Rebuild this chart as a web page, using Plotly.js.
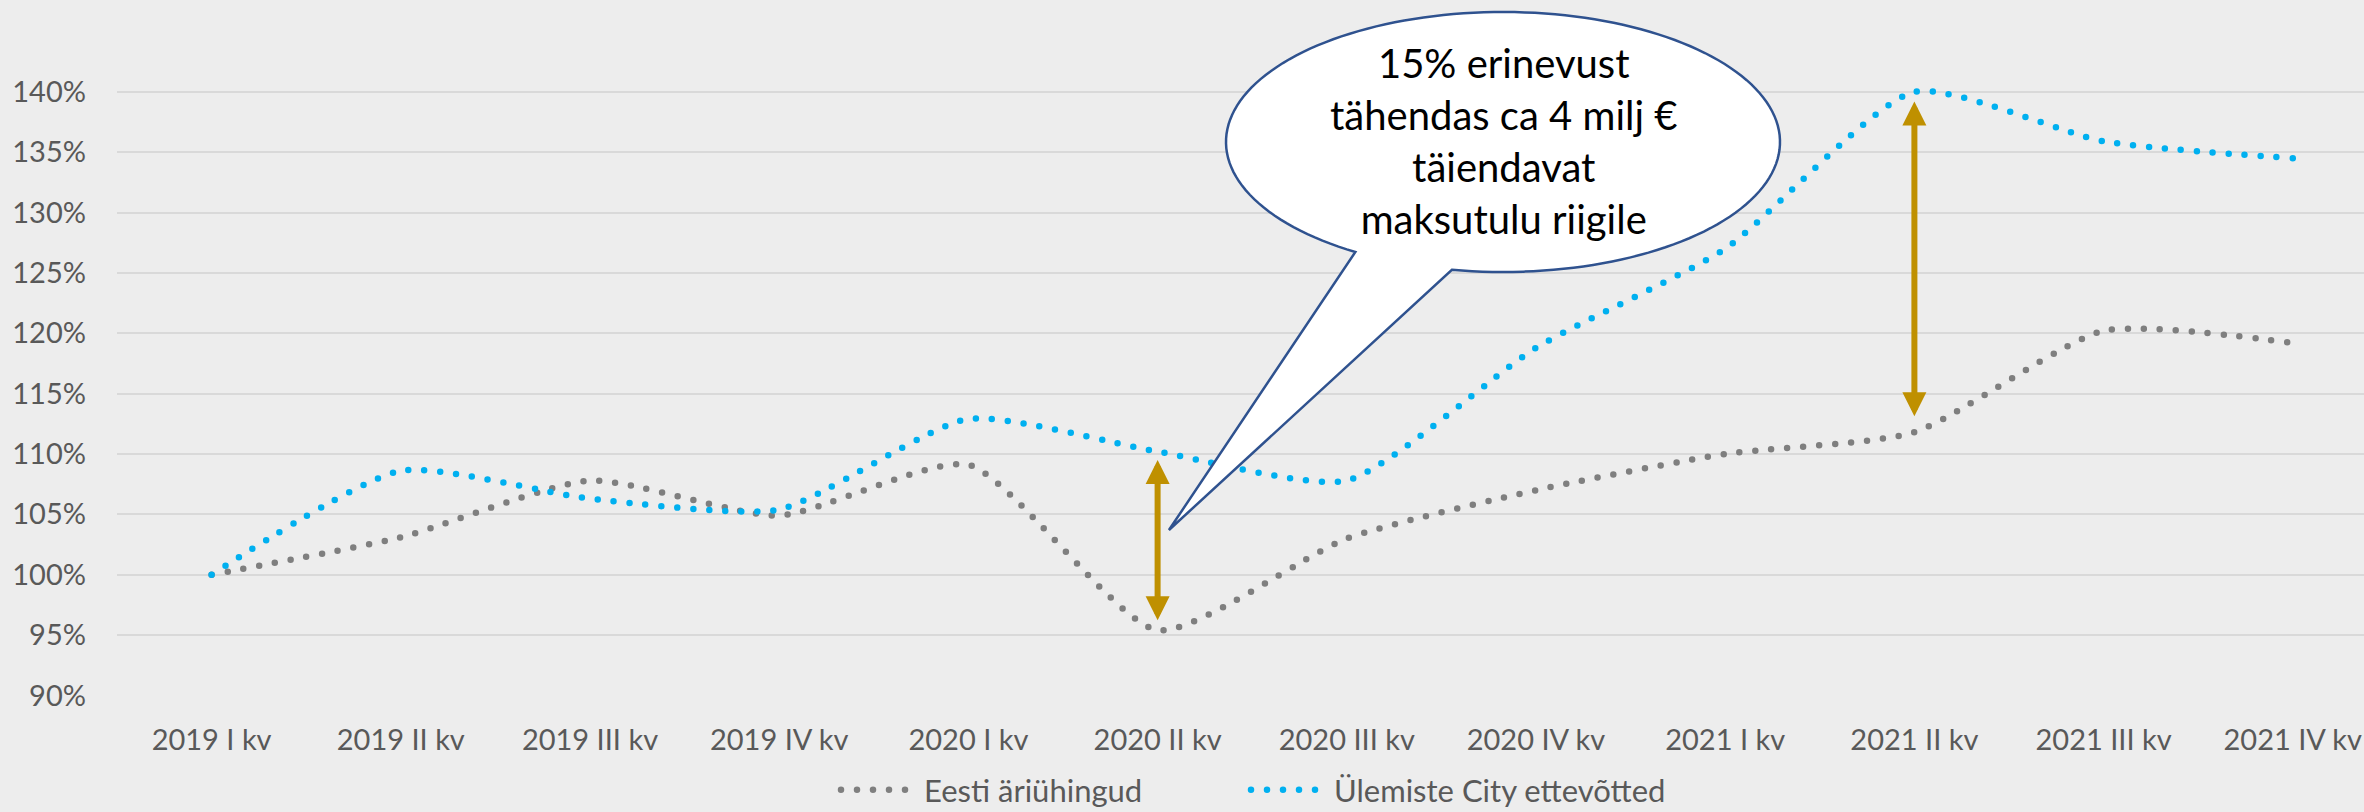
<!DOCTYPE html>
<html>
<head>
<meta charset="utf-8">
<script src="https://cdn.plot.ly/plotly-3.0.1.min.js"></script>
<style>
html,body{margin:0;padding:0;background:#EDEDED;}
#chart{width:2364px;height:812px;}
.js-line{stroke-linecap:round;}
</style>
</head>
<body>
<div id="chart"></div>
<script>
// ---- data ----
const categories = ["2019 I kv","2019 II kv","2019 III kv","2019 IV kv","2020 I kv","2020 II kv","2020 III kv","2020 IV kv","2021 I kv","2021 II kv","2021 III kv","2021 IV kv"];
const eestiValues = [1.000, 1.031, 1.078, 1.049, 1.091, 0.954, 1.030, 1.070, 1.100, 1.118, 1.202, 1.192];
const ulemisteValues = [1.000, 1.086, 1.063, 1.054, 1.129, 1.102, 1.078, 1.188, 1.270, 1.400, 1.359, 1.345];
const seriesNames = ["Eesti äriühingud", "Ülemiste City ettevõtted"];
const yTickValues = [0.90, 0.95, 1.00, 1.05, 1.10, 1.15, 1.20, 1.25, 1.30, 1.35, 1.40];
const yTickLabels = ["90%","95%","100%","105%","110%","115%","120%","125%","130%","135%","140%"];
const calloutLines = ["15% erinevust", "tähendas ca 4 milj €", "täiendavat", "maksutulu riigile"];
const arrowCategoryIdx = [5, 9];

// ---- layout geometry ----
const W = 2364, H = 812;
const M = {l: 117, r: 0, t: 32, b: 116};
const PW = W - M.l - M.r, PH = H - M.t - M.b;
const X_RANGE = [-0.5, -0.5 + PW / 189.2];
const Y_RANGE = [0.8995, 1.4496];
const px2paperX = p => (p - M.l) / PW;
const px2paperY = p => (H - M.b - p) / PH;
const dataX2px = i => M.l + (i - X_RANGE[0]) / (X_RANGE[1] - X_RANGE[0]) * PW;
const dataY2px = v => H - M.b - (v - Y_RANGE[0]) / (Y_RANGE[1] - Y_RANGE[0]) * PH;

const textColor = "#595959";
const bg = "#EDEDED";
const dotDash = "0px,16px";

const traces = [
  {x: categories, y: eestiValues, name: seriesNames[0], type: "scatter", mode: "lines",
   line: {color: "#7F7F7F", width: 6.5, dash: dotDash, shape: "spline", smoothing: 0.6},
   hoverinfo: "skip", cliponaxis: false, legend: "legend"},
  {x: categories, y: ulemisteValues, name: seriesNames[1], type: "scatter", mode: "lines",
   line: {color: "#00B0F0", width: 6.5, dash: dotDash, shape: "spline", smoothing: 0.6},
   hoverinfo: "skip", cliponaxis: false, legend: "legend2"}
];

// ---- callout bubble (ellipse with tail) ----
const cx = 1503, cy = 142, rx = 277, ry = 130;
const tailA = Math.atan2((272 - cy) / ry, (1451 - cx) / rx); // right base
const tailB = Math.atan2((253 - cy) / ry, (1354 - cx) / rx); // left base
const tipPx = [dataX2px(arrowCategoryIdx[0] + 0.06), dataY2px(1.037)];
let pts = [];
const N = 160;
const a0 = tailA, a1 = tailB - 2 * Math.PI;
for (let k = 0; k <= N; k++) {
  const a = a0 + (a1 - a0) * k / N;
  pts.push([cx + rx * Math.cos(a), cy + ry * Math.sin(a)]);
}
pts.push(tipPx);
let path = pts.map((p, k) => (k ? "L" : "M") + px2paperX(p[0]).toFixed(5) + "," + px2paperY(p[1]).toFixed(5)).join(" ") + " Z";

const shapes = [{
  type: "path", xref: "paper", yref: "paper", path: path,
  fillcolor: "#FFFFFF", line: {color: "#2F528F", width: 2.5}, layer: "above"
}];

const annotations = [{
  xref: "paper", yref: "paper", x: px2paperX(cx), y: px2paperY(141),
  xanchor: "center", yanchor: "middle", text: calloutLines.join("<br>"), showarrow: false,
  align: "center",
  font: {family: "Lato, 'Open Sans', sans-serif", size: 40, color: "#000000"}
}];

// ---- difference arrows ----
const arrowPad = [[0.007, 0.007], [0.008, 0.012]];
arrowCategoryIdx.forEach((ci, k) => {
  annotations.push({
    xref: "x", yref: "y", axref: "x", ayref: "y",
    x: ci, y: ulemisteValues[ci] - arrowPad[k][0],
    ax: ci, ay: eestiValues[ci] + arrowPad[k][1],
    text: "", showarrow: true, arrowside: "end+start",
    arrowhead: 2, startarrowhead: 2, arrowsize: 0.8, startarrowsize: 0.8,
    arrowwidth: 6, arrowcolor: "#BF9000", standoff: 0, startstandoff: 0
  });
});

const legendBase = {
  orientation: "h", xref: "container", yref: "container",
  xanchor: "left", y: 1 - 790 / H, yanchor: "middle",
  font: {size: 31, color: textColor}, itemwidth: 78, bgcolor: "rgba(0,0,0,0)",
  itemclick: false
};

const layout = {
  width: W, height: H,
  margin: M,
  paper_bgcolor: bg, plot_bgcolor: bg,
  font: {family: "Lato, 'Open Sans', sans-serif", color: textColor, size: 29},
  showlegend: true,
  legend: Object.assign({}, legendBase, {x: 836 / W}),
  legend2: Object.assign({}, legendBase, {x: 1246 / W}),
  xaxis: {
    type: "category", range: X_RANGE, showgrid: false, zeroline: false, showline: false,
    ticks: "", ticklabelstandoff: 24, tickfont: {size: 29, color: textColor}, fixedrange: true
  },
  yaxis: {
    range: Y_RANGE, tickvals: yTickValues, ticktext: yTickLabels,
    showgrid: true, gridcolor: "#D9D9D9", gridwidth: 2, zeroline: false, showline: false,
    ticks: "", ticklabelstandoff: 30, tickfont: {size: 29, color: textColor}, fixedrange: true
  },
  shapes: shapes,
  annotations: annotations
};

Plotly.newPlot("chart", traces, layout, {displayModeBar: false, staticPlot: true});
</script>
</body>
</html>
